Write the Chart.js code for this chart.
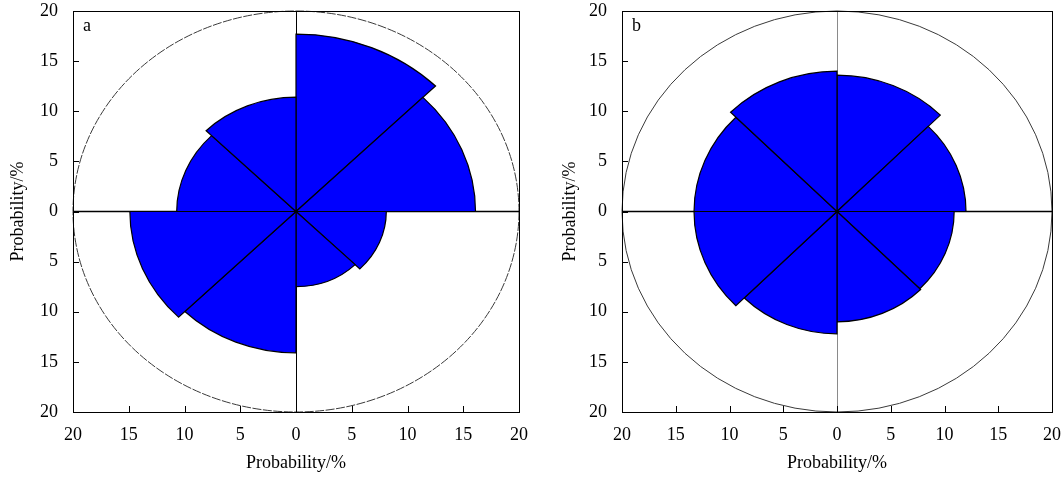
<!DOCTYPE html>
<html>
<head>
<meta charset="utf-8">
<script src="https://cdn.jsdelivr.net/npm/chart.js@4/dist/chart.umd.min.js"></script>
<style>
  html, body { margin: 0; padding: 0; background: #fff; }
  .panel { position: absolute; top: 0; width: 532px; height: 480px; }
</style>
</head>
<body>
<div class="panel" style="left:0"><canvas id="roseA" width="532" height="480"></canvas></div>
<div class="panel" style="left:532px"><canvas id="roseB" width="532" height="480"></canvas></div>
<script>
// Sector start bearings (degrees clockwise from north), each sector 45° wide
const sectorStarts = [0, 45, 90, 135, 180, 225, 270, 315];
const sectorWidth = 45;
// Probability (%) of each sector
const probabilityA = [17.7, 16.1, 8.1, 7.5, 14.1, 14.9, 10.7, 11.4];
const probabilityB = [13.6, 12.0, 10.9, 11.0, 12.2, 13.3, 13.3, 14.0];
// Axis ticks and reference ring
const tickValues = [-20, -15, -10, -5, 0, 5, 10, 15, 20];
const ringRadius = 20;
const axisTitle = 'Probability/%';

const FONT = "'Liberation Serif', 'Times New Roman', serif";

// Draws the frame, reference ring, cross-hair axes, inward ticks and rose sectors
const rosePlugin = {
  id: 'rose',
  afterDraw(chart, args, opts) {
    const { ctx, chartArea: a, scales: { x, y } } = chart;
    const cx = x.getPixelForValue(0);
    const cy = y.getPixelForValue(0);
    const sx = x.getPixelForValue(1) - cx;
    const sy = cy - y.getPixelForValue(1);
    ctx.save();

    // reference ring at 20 %
    ctx.beginPath();
    ctx.ellipse(cx, cy, ringRadius * sx, ringRadius * sy, 0, 0, Math.PI * 2);
    ctx.strokeStyle = '#3a3a3a';
    ctx.lineWidth = 1;
    ctx.setLineDash(opts.ringDash || []);
    ctx.stroke();
    ctx.setLineDash([]);

    // cross-hair through the origin
    ctx.lineWidth = 1.5;
    ctx.strokeStyle = '#000';
    ctx.beginPath();
    ctx.moveTo(a.left, cy); ctx.lineTo(a.right, cy);
    ctx.stroke();
    ctx.lineWidth = 1;
    ctx.strokeStyle = opts.verticalColor;
    ctx.beginPath();
    ctx.moveTo(Math.round(cx) + 0.5, a.top); ctx.lineTo(Math.round(cx) + 0.5, a.bottom);
    ctx.stroke();

    // rose sectors
    opts.values.forEach((r, i) => {
      const t0 = (sectorStarts[i] - 90) * Math.PI / 180;
      const t1 = (sectorStarts[i] + sectorWidth - 90) * Math.PI / 180;
      ctx.beginPath();
      ctx.moveTo(cx, cy);
      ctx.ellipse(cx, cy, r * sx, r * sy, 0, t0, t1);
      ctx.closePath();
      ctx.fillStyle = '#0000ff';
      ctx.fill();
      ctx.lineWidth = 1.2;
      ctx.strokeStyle = '#000';
      ctx.stroke();
    });

    // frame
    ctx.lineWidth = 1;
    ctx.strokeStyle = '#000';
    ctx.strokeRect(Math.round(a.left) + 0.5, Math.round(a.top) + 0.5,
                   Math.round(a.right - a.left), Math.round(a.bottom - a.top));

    // inward tick marks on the left and bottom edges
    ctx.beginPath();
    tickValues.forEach(v => {
      const py = Math.round(y.getPixelForValue(v)) + 0.5;
      ctx.moveTo(a.left, py); ctx.lineTo(a.left + 6, py);
      const px = Math.round(x.getPixelForValue(v)) + 0.5;
      ctx.moveTo(px, a.bottom); ctx.lineTo(px, a.bottom - 6);
    });
    ctx.stroke();

    // panel letter
    ctx.fillStyle = '#000';
    ctx.font = '18px ' + FONT;
    ctx.textAlign = 'left';
    ctx.textBaseline = 'middle';
    ctx.fillText(opts.letter, a.left + 10, a.top + 15);
    ctx.restore();
  }
};

function makeRose(id, values, letter, padLeft, yWidth, padRight, verticalColor, ringDash) {
  const tickOpts = {
    color: '#000',
    font: { family: FONT, size: 18 },
    callback: v => String(Math.abs(v)),
    autoSkip: false,
    maxRotation: 0
  };
  return new Chart(document.getElementById(id), {
    type: 'scatter',
    data: { datasets: [] },
    options: {
      responsive: false,
      animation: false,
      devicePixelRatio: 1,
      layout: { padding: { left: padLeft, right: padRight, top: 11, bottom: 0 } },
      plugins: {
        legend: { display: false },
        tooltip: { enabled: false },
        rose: { values, letter, verticalColor, ringDash }
      },
      scales: {
        x: {
          type: 'linear', min: -20, max: 20,
          afterBuildTicks: s => { s.ticks = tickValues.map(v => ({ value: v })); },
          afterFit: s => { s.height = 68; s.paddingLeft = 0; s.paddingRight = 0; },
          grid: { display: false, drawTicks: false },
          border: { display: false },
          ticks: Object.assign({ padding: 12 }, tickOpts),
          title: { display: true, text: axisTitle, color: '#000',
                   font: { family: FONT, size: 18 }, padding: { top: 0, bottom: 6 } }
        },
        y: {
          type: 'linear', min: -20, max: 20,
          afterBuildTicks: s => { s.ticks = tickValues.map(v => ({ value: v })); },
          afterFit: s => { s.width = yWidth; s.paddingTop = 0; s.paddingBottom = 0; },
          grid: { display: false, drawTicks: false },
          border: { display: false },
          ticks: Object.assign({ padding: 15 }, tickOpts),
          title: { display: true, text: axisTitle, color: '#000',
                   font: { family: FONT, size: 18 }, padding: { top: 7, bottom: 0 } }
        }
      }
    },
    plugins: [rosePlugin]
  });
}

makeRose('roseA', probabilityA, 'a', 0, 73, 13, '#000', [9, 1.5]);
makeRose('roseB', probabilityB, 'b', 20, 70, 12, '#8a8a8a', []);
</script>
</body>
</html>
